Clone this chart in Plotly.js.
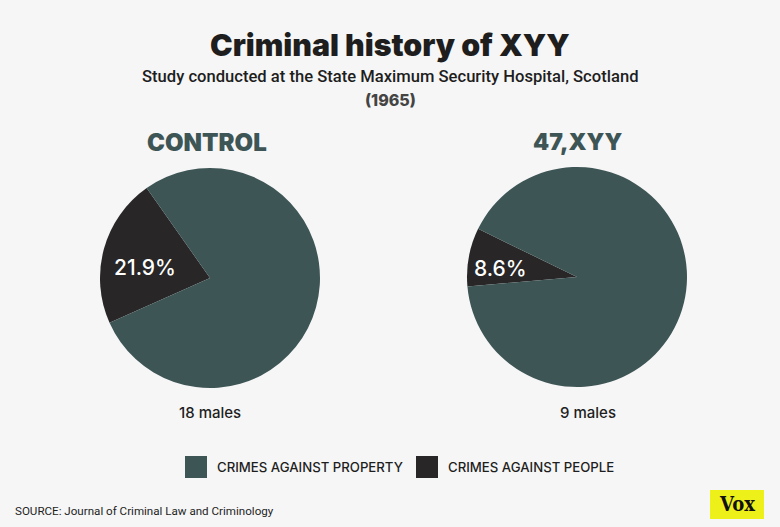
<!DOCTYPE html>
<html>
<head>
<meta charset="utf-8">
<script src="https://cdn.plot.ly/plotly-3.0.1.min.js"></script>
<style>
html,body{margin:0;padding:0;background:#f6f6f6;}
#chart{width:780px;height:527px;}
</style>
</head>
<body>
<div id="chart"></div>
<script>
// ---- data ----
var categories = ["CRIMES AGAINST PEOPLE", "CRIMES AGAINST PROPERTY"];
var groups = ["CONTROL", "47,XYY"];
var groupCounts = ["18 males", "9 males"];
var controlValues = [21.9, 78.1];
var xyyValues = [8.6, 91.4];
var legendOrder = ["CRIMES AGAINST PROPERTY", "CRIMES AGAINST PEOPLE"];

// ---- styling ----
var colors = {"CRIMES AGAINST PEOPLE": "#282626", "CRIMES AGAINST PROPERTY": "#3e5556"};
var bg = "#f6f6f6";
var W = 780, H = 527;
function px(x){return x / W;}
function py(y){return 1 - y / H;}

var pieSpecs = [
  {values: controlValues, cx: 210, cy: 278, r: 110, rot: -114, lx: 145, ly: 267, tx: 207, cntx: 210, tsize: 24},
  {values: xyyValues, cx: 577, cy: 277, r: 110, rot: -95, lx: 500, ly: 268, tx: 577, cntx: 588, tsize: 23}
];

var data = pieSpecs.map(function(s, i){
  return {
    type: "pie",
    labels: categories,
    values: s.values,
    sort: false,
    direction: "counterclockwise",
    rotation: s.rot,
    marker: {colors: categories.map(function(c){return colors[c];}), line: {width: 0}},
    textinfo: "none",
    hoverinfo: "label+value",
    showlegend: false,
    domain: {x: [px(s.cx - s.r), px(s.cx + s.r)], y: [py(s.cy + s.r), py(s.cy - s.r)]}
  };
});

var annotations = [];
var shapes = [];
// title, subtitle
annotations.push({text: "Criminal history of XYY", x: 0.5, y: py(45), xref: "paper", yref: "paper", showarrow: false,
  font: {family: "Inter", size: 30.3, color: "#1e1e1e", weight: 900}, xanchor: "center", yanchor: "middle"});
annotations.push({text: "Study conducted at the State Maximum Security Hospital, Scotland", x: 0.5, y: py(76), xref: "paper", yref: "paper", showarrow: false,
  font: {family: "Roboto", size: 16.6, color: "#1e1e1e", weight: 500}, xanchor: "center", yanchor: "middle"});
annotations.push({text: "(1965)", x: 0.5, y: py(100), xref: "paper", yref: "paper", showarrow: false,
  font: {family: "Inter", size: 16, color: "#444444", weight: 800}, xanchor: "center", yanchor: "middle"});

pieSpecs.forEach(function(s, i){
  annotations.push({text: groups[i], x: px(s.tx), y: py(142), xref: "paper", yref: "paper", showarrow: false,
    font: {family: "Inter", size: s.tsize, color: "#3e5556", weight: 900}, xanchor: "center", yanchor: "middle"});
  annotations.push({text: groupCounts[i], x: px(s.cntx), y: py(412), xref: "paper", yref: "paper", showarrow: false,
    font: {family: "Inter", size: 15, color: "#1e1e1e", weight: 500}, xanchor: "center", yanchor: "middle"});
  annotations.push({text: s.values[0] + "%", x: px(s.lx), y: py(s.ly), xref: "paper", yref: "paper", showarrow: false,
    font: {family: "Inter", size: 21, color: "#ffffff", weight: 500}, xanchor: "center", yanchor: "middle"});
});

// legend
var legendX = [185, 416];
legendOrder.forEach(function(c, i){
  var x0 = legendX[i];
  shapes.push({type: "rect", xref: "paper", yref: "paper", x0: px(x0), x1: px(x0 + 22), y0: py(478), y1: py(456),
    fillcolor: colors[c], line: {width: 0}});
  annotations.push({text: c, x: px(x0 + 30), y: py(467), xref: "paper", yref: "paper", showarrow: false,
    font: {family: "Inter", size: 13.2, color: "#1e1e1e", weight: 500}, xanchor: "left", yanchor: "middle"});
});

// source
annotations.push({text: "SOURCE: Journal of Criminal Law and Criminology", x: px(13), y: py(511), xref: "paper", yref: "paper", showarrow: false,
  font: {family: "Roboto", size: 11.6, color: "#1e1e1e"}, xanchor: "left", yanchor: "middle"});
// vox logo
shapes.push({type: "rect", xref: "paper", yref: "paper", x0: px(710), x1: px(764), y0: py(519), y1: py(490),
  fillcolor: "#eef01a", line: {width: 0}});
annotations.push({text: "<b>Vox</b>", x: px(737), y: py(504), xref: "paper", yref: "paper", showarrow: false,
  font: {family: "DejaVu Serif Condensed, DejaVu Serif", size: 20, color: "#111111"}, xanchor: "center", yanchor: "middle"});

var layout = {
  width: W, height: H,
  margin: {l: 0, r: 0, t: 0, b: 0},
  paper_bgcolor: bg, plot_bgcolor: bg,
  showlegend: false,
  annotations: annotations,
  shapes: shapes
};
Plotly.newPlot("chart", data, layout, {displayModeBar: false, staticPlot: true});
</script>
</body>
</html>
